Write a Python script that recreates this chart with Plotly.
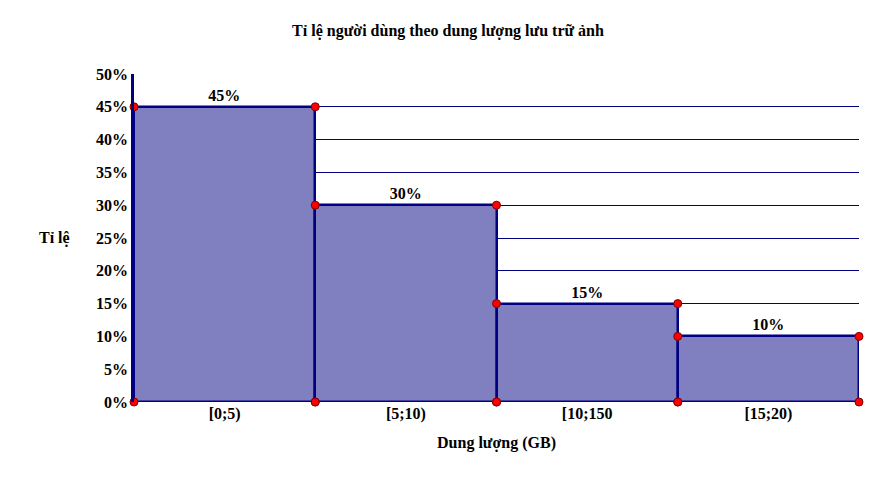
import plotly.graph_objects as go

# --- data ---
bin_labels = ["[0;5)", "[5;10)", "[10;150", "[15;20)"]
bin_left = [0, 5, 10, 15]
bin_width = 5
shares = [45, 30, 15, 10]
y_ticks = [0, 5, 10, 15, 20, 25, 30, 35, 40, 45, 50]

serif = "Liberation Serif, Times New Roman, serif"
navy = "#000080"

fig = go.Figure()

fig.add_trace(go.Bar(
    x=[l + bin_width / 2 for l in bin_left],
    y=shares,
    width=bin_width,
    marker=dict(color="#8080c0", line=dict(color=navy, width=2.5)),
    text=[f"<b>{s}%</b>" for s in shares],
    textposition="outside",
    textfont=dict(family=serif, size=16, color="black"),
    cliponaxis=False,
    hoverinfo="skip",
))

# red dots at the corners of each bar
px_, py_ = [], []
for l, s in zip(bin_left, shares):
    for xx, yy in [(l, 0), (l, s), (l + bin_width, s), (l + bin_width, 0)]:
        px_.append(xx)
        py_.append(yy)
fig.add_trace(go.Scatter(
    x=px_, y=py_, mode="markers",
    marker=dict(color="red", size=8, line=dict(color="#800000", width=1)),
    cliponaxis=False, hoverinfo="skip",
))

fig.update_layout(
    width=880, height=478,
    margin=dict(l=126, r=29, t=66, b=84),
    paper_bgcolor="white", plot_bgcolor="white",
    showlegend=False,
    bargap=0,
    title=dict(text="<b>Tỉ lệ người dùng theo dung lượng lưu trữ ảnh</b>",
               x=0.5, xanchor="center", y=0.965,
               font=dict(family=serif, size=16, color="black")),
    xaxis=dict(
        range=[0, 20], showgrid=False, zeroline=False, showline=False,
        tickmode="array",
        tickvals=[l + bin_width / 2 for l in bin_left],
        ticktext=[f"<b>{t}</b>" for t in bin_labels],
        tickfont=dict(family=serif, size=16, color="black"),
        ticklen=20, tickcolor="white",
        title=dict(text="<b>Dung lượng (GB)</b>",
                   font=dict(family=serif, size=16, color="black"), standoff=14),
    ),
    yaxis=dict(
        range=[0, 50], showgrid=True, gridcolor=navy, gridwidth=1,
        zeroline=False, showline=True, linecolor=navy, linewidth=2.5,
        tickmode="array", tickvals=y_ticks,
        ticktext=[f"<b>{v}%</b>" for v in y_ticks],
        tickfont=dict(family=serif, size=16, color="black"),
    ),
    annotations=[dict(text="<b>Tỉ lệ</b>", xref="paper", yref="paper",
                      x=-0.085, y=0.5, xanchor="right", showarrow=False,
                      font=dict(family=serif, size=16, color="black"))],
)

fig.write_html("out.html")
